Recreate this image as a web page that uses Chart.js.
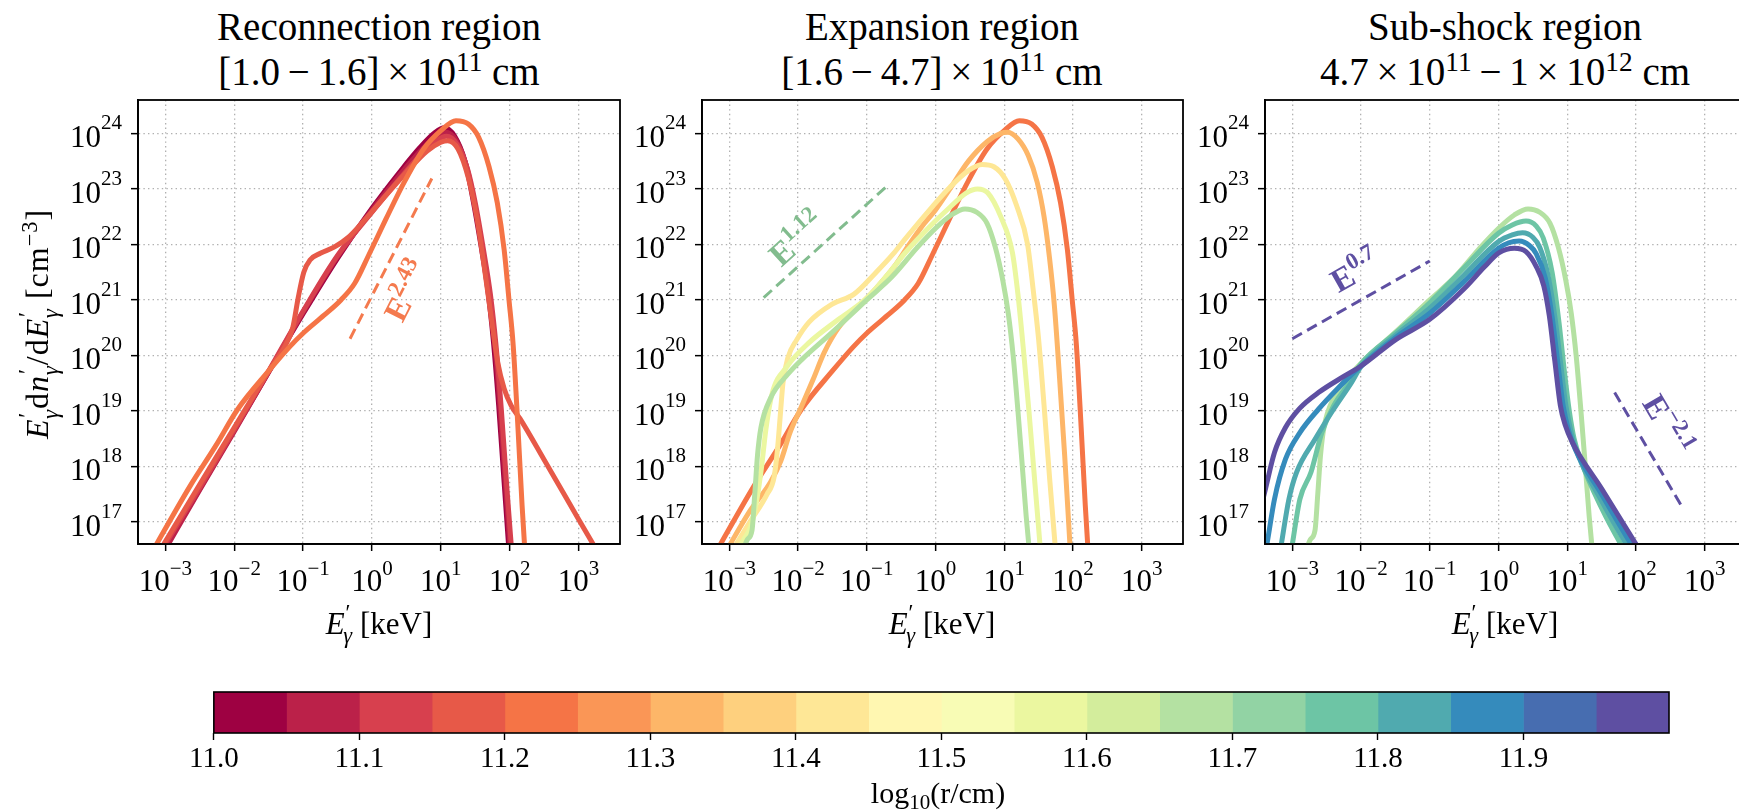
<!DOCTYPE html>
<html>
<head>
<meta charset="utf-8">
<title>Photon spectra by region</title>
<script src="https://cdn.jsdelivr.net/npm/chart.js@4.4.1/dist/chart.umd.min.js"></script>
<style>
  html, body { margin: 0; padding: 0; width: 1739px; height: 810px; overflow: hidden; background: #fff; }
  body { position: relative; font-family: "Liberation Serif", "DejaVu Serif", serif; color: #000; }
  canvas { position: absolute; }
  .title { position: absolute; top: 4px; width: 620px; text-align: center; font-size: 39px; line-height: 45px; white-space: nowrap; }
  .xlabel { position: absolute; top: 606px; width: 300px; text-align: center; font-size: 31px; line-height: 36px; white-space: nowrap; }
  .ylabel { position: absolute; left: -121px; top: 304px; width: 320px; text-align: center; font-size: 32px; line-height: 36px; letter-spacing: 1px; white-space: nowrap; transform: rotate(-90deg); }
  .cblabel { position: absolute; left: 788px; top: 775px; width: 300px; text-align: center; font-size: 30px; line-height: 36px; white-space: nowrap; }
  .up { position: relative; top: -0.5em; font-size: 0.7em; }
  .lo { position: relative; top: 0.3em; font-size: 0.7em; }
  .pr { position: relative; top: -0.62em; font-size: 0.72em; margin-left: 0.04em; font-style: normal; }
  .gm { position: relative; top: 0.42em; font-size: 0.72em; margin-left: -0.32em; font-style: italic; }
</style>
</head>
<body>
<div class="title" style="left:69px">Reconnection region<br>[1.0&#8201;&#8722;&#8201;1.6]&#8201;&#215;&#8201;10<span class="up">11</span> cm</div>
<div class="title" style="left:632px">Expansion region<br>[1.6&#8201;&#8722;&#8201;4.7]&#8201;&#215;&#8201;10<span class="up">11</span> cm</div>
<div class="title" style="left:1195px">Sub-shock region<br>4.7&#8201;&#215;&#8201;10<span class="up">11</span>&#8201;&#8722;&#8201;1&#8201;&#215;&#8201;10<span class="up">12</span> cm</div>

<canvas id="rec" width="622" height="564" style="left:8px;top:90px"></canvas>
<canvas id="exp" width="621" height="564" style="left:572px;top:90px"></canvas>
<canvas id="sub" width="621" height="564" style="left:1135px;top:90px"></canvas>
<canvas id="cbar" width="1502" height="106" style="left:187px;top:687px"></canvas>

<div class="ylabel"><i>E</i><span class="pr">&#8242;</span><span class="gm">&#947;</span>d<i>n</i><span class="pr">&#8242;</span><span class="gm">&#947;</span>/d<i>E</i><span class="pr">&#8242;</span><span class="gm">&#947;</span> [cm<span class="up">&#8722;3</span>]</div>
<div class="xlabel" style="left:229px"><i>E</i><span class="pr">&#8242;</span><span class="gm">&#947;</span> [keV]</div>
<div class="xlabel" style="left:792px"><i>E</i><span class="pr">&#8242;</span><span class="gm">&#947;</span> [keV]</div>
<div class="xlabel" style="left:1355px"><i>E</i><span class="pr">&#8242;</span><span class="gm">&#947;</span> [keV]</div>
<div class="cblabel">log<span class="lo">10</span>(r/cm)</div>

<script>
// axis limits and decade ticks (keV on x, cm^-3 on y)
const xRange = [4e-4, 4e3];
const yRange = [4e16, 4e24];
const xDecades = [1e-3, 1e-2, 1e-1, 1, 1e1, 1e2, 1e3];
const yDecades = [1e17, 1e18, 1e19, 1e20, 1e21, 1e22, 1e23, 1e24];

// colorbar bins in log10(r/cm) and its labelled ticks
const cbEdges = [11.0, 11.05, 11.1, 11.15, 11.2, 11.25, 11.3, 11.35, 11.4, 11.45, 11.5,
                 11.55, 11.6, 11.65, 11.7, 11.75, 11.8, 11.85, 11.9, 11.95, 12.0];
const cbTicks = [11.0, 11.1, 11.2, 11.3, 11.4, 11.5, 11.6, 11.7, 11.8, 11.9];

// spectra as [log10 E (keV), log10 E dn/dE (cm^-3)], one array per radius
const spec1100 = [[-3.07, 16.4], [-2.5, 17.6], [-2.0, 18.65], [-1.5, 19.7], [-1.0, 20.75], [-0.5, 21.75],
  [0.0, 22.65], [0.4, 23.3], [0.7, 23.75], [0.92, 24.02], [1.05, 24.1], [1.2, 23.95], [1.35, 23.5],
  [1.46, 22.85], [1.58, 22.0], [1.68, 21.2], [1.76, 20.3], [1.84, 19.1], [1.92, 17.7], [2.0, 16.3]];
const spec1105 = [[-3.05, 16.4], [-2.5, 17.58], [-2.0, 18.63], [-1.5, 19.7], [-1.0, 20.78], [-0.5, 21.78],
  [0.0, 22.62], [0.4, 23.25], [0.7, 23.68], [0.95, 23.95], [1.07, 24.02], [1.22, 23.88], [1.37, 23.42],
  [1.48, 22.8], [1.6, 21.95], [1.7, 21.15], [1.78, 20.25], [1.86, 19.05], [1.94, 17.65], [2.02, 16.3]];
const spec1110 = [[-3.1, 16.4], [-2.5, 17.62], [-2.0, 18.66], [-1.5, 19.72], [-1.0, 20.8], [-0.5, 21.8],
  [0.0, 22.58], [0.4, 23.18], [0.7, 23.6], [0.95, 23.88], [1.08, 23.95], [1.24, 23.8], [1.39, 23.35],
  [1.5, 22.75], [1.62, 21.9], [1.72, 21.1], [1.8, 20.2], [1.88, 19.0], [1.96, 17.6], [2.04, 16.3]];
const spec1115 = [[-3.12, 16.4], [-2.5, 17.68], [-2.0, 18.7], [-1.5, 19.72], [-1.25, 20.2], [-1.15, 20.5],
  [-1.07, 21.05], [-0.99, 21.5], [-0.9, 21.72], [-0.75, 21.84], [-0.55, 21.95], [-0.35, 22.12],
  [-0.1, 22.45], [0.2, 22.88], [0.5, 23.3], [0.8, 23.68], [1.0, 23.84], [1.1, 23.87], [1.25, 23.72],
  [1.4, 23.2], [1.52, 22.5], [1.63, 21.6], [1.73, 20.7], [1.83, 19.85], [1.92, 19.4], [2.02, 19.1],
  [2.15, 18.86], [2.5, 18.12], [3.0, 17.05], [3.4, 16.2]];
const spec1120 = [[-3.22, 16.4], [-2.64, 17.65], [-2.27, 18.37], [-1.95, 19.03], [-1.5, 19.72], [-1.2, 20.15],
  [-1.0, 20.4], [-0.7, 20.72], [-0.45, 21.0], [-0.25, 21.3], [-0.05, 21.8], [0.2, 22.45], [0.48, 23.15],
  [0.75, 23.72], [1.0, 24.05], [1.22, 24.23], [1.4, 24.17], [1.55, 23.93], [1.7, 23.4], [1.82, 22.75],
  [1.92, 21.9], [1.99, 21.0], [2.05, 20.2], [2.12, 18.7], [2.18, 17.3], [2.23, 16.3]];
const spec1130 = [[-3.08, 16.4], [-2.7, 17.2], [-2.4, 17.72], [-2.25, 18.1], [-2.12, 18.6], [-1.95, 19.08],
  [-1.78, 19.57], [-1.62, 20.05], [-1.41, 20.5], [-1.08, 20.93], [-0.87, 21.2], [-0.6, 21.6], [-0.4, 21.97],
  [-0.2, 22.32], [0.0, 22.62], [0.21, 23.0], [0.48, 23.5], [0.75, 23.85], [0.95, 24.0], [1.05, 24.02],
  [1.2, 23.9], [1.35, 23.6], [1.48, 23.12], [1.58, 22.5], [1.66, 21.75], [1.73, 20.9], [1.8, 19.7],
  [1.88, 18.2], [1.97, 16.3]];
const spec1140 = [[-3.0, 16.4], [-2.7, 17.0], [-2.45, 17.5], [-2.35, 17.8], [-2.3, 18.3], [-2.26, 18.9],
  [-2.22, 19.5], [-2.15, 19.95], [-2.02, 20.28], [-1.84, 20.6], [-1.51, 20.92], [-1.19, 21.1], [-0.9, 21.45],
  [-0.6, 21.85], [-0.44, 22.1], [-0.06, 22.66], [0.21, 23.03], [0.48, 23.33], [0.68, 23.44], [0.85, 23.4],
  [1.02, 23.17], [1.18, 22.7], [1.34, 22.0], [1.42, 21.2], [1.5, 20.3], [1.58, 19.1], [1.66, 17.8], [1.76, 16.3]];
const spec1155 = [[-2.93, 16.4], [-2.78, 16.7], [-2.68, 16.95], [-2.6, 17.4], [-2.53, 18.0], [-2.47, 18.65],
  [-2.38, 19.3], [-2.16, 19.8], [-1.84, 20.23], [-1.41, 20.65], [-1.03, 21.0], [-0.7, 21.45], [-0.44, 21.85],
  [-0.06, 22.35], [0.21, 22.67], [0.45, 22.93], [0.61, 23.0], [0.76, 22.93], [0.95, 22.5], [1.12, 21.85],
  [1.2, 21.1], [1.28, 20.1], [1.36, 19.0], [1.44, 17.8], [1.54, 16.3]];
const spec1167 = [[-2.82, 16.4], [-2.74, 16.68], [-2.67, 16.85], [-2.63, 17.5], [-2.59, 18.2], [-2.54, 18.7],
  [-2.4, 19.23], [-2.15, 19.66], [-1.95, 19.92], [-1.5, 20.42], [-1.0, 21.0], [-0.63, 21.42], [-0.26, 21.95],
  [0.01, 22.3], [0.23, 22.53], [0.43, 22.64], [0.6, 22.58], [0.75, 22.38], [0.87, 21.95], [0.98, 21.35],
  [1.06, 20.75], [1.13, 20.0], [1.2, 19.0], [1.27, 17.9], [1.32, 17.1], [1.38, 16.3]];
const spec1178 = [[-3.04, 16.3], [-3.0, 16.6], [-2.89, 17.41], [-2.73, 17.89], [-2.57, 18.61], [-2.4, 19.09],
  [-2.14, 19.57], [-2.0, 19.85], [-1.5, 20.4], [-1.0, 20.95], [-0.5, 21.58], [0.0, 22.2], [0.2, 22.35],
  [0.4, 22.42], [0.55, 22.33], [0.65, 22.12], [0.78, 21.5], [0.88, 20.6], [0.96, 19.7], [1.03, 19.0],
  [1.1, 18.5], [1.2, 18.1], [1.5, 17.25], [1.78, 16.6], [1.88, 16.4]];
const spec1183 = [[-3.2, 16.3], [-3.16, 16.6], [-3.05, 17.41], [-2.94, 17.89], [-2.67, 18.49], [-2.4, 19.03],
  [-2.14, 19.51], [-2.0, 19.8], [-1.5, 20.36], [-1.0, 20.85], [-0.5, 21.45], [0.0, 22.05], [0.2, 22.17],
  [0.35, 22.21], [0.5, 22.13], [0.6, 21.95], [0.72, 21.45], [0.82, 20.7], [0.9, 19.9], [0.98, 19.1],
  [1.06, 18.6], [1.16, 18.2], [1.5, 17.38], [1.86, 16.6], [1.96, 16.4]];
const spec1188 = [[-3.42, 16.3], [-3.37, 16.6], [-3.26, 17.41], [-3.1, 18.13], [-2.89, 18.61], [-2.62, 19.03],
  [-2.35, 19.39], [-2.08, 19.72], [-1.5, 20.32], [-1.0, 20.76], [-0.5, 21.33], [0.0, 21.93], [0.15, 22.03],
  [0.3, 22.06], [0.45, 21.98], [0.55, 21.83], [0.68, 21.4], [0.78, 20.7], [0.86, 19.9], [0.94, 19.1],
  [1.02, 18.65], [1.12, 18.3], [1.5, 17.5], [1.93, 16.6], [2.03, 16.4]];
const spec1198 = [[-3.5, 17.05], [-3.39, 17.6], [-3.26, 18.25], [-3.1, 18.7], [-2.89, 19.05], [-2.62, 19.33],
  [-2.24, 19.63], [-2.0, 19.81], [-1.49, 20.29], [-1.0, 20.65], [-0.5, 21.2], [-0.2, 21.6], [0.01, 21.85],
  [0.23, 21.93], [0.4, 21.87], [0.55, 21.6], [0.66, 21.25], [0.74, 20.71], [0.82, 19.9], [0.9, 19.1],
  [0.97, 18.75], [1.08, 18.42], [1.5, 17.6], [2.0, 16.6], [2.1, 16.4]];

// which spectra sit in each region, and their log10(r/cm)
const recCurves = [spec1100, spec1105, spec1110, spec1115, spec1120];
const recLogR = [11.02, 11.07, 11.12, 11.17, 11.22];
const expCurves = [spec1120, spec1130, spec1140, spec1155, spec1167];
const expLogR = [11.22, 11.32, 11.42, 11.57, 11.67];
const subCurves = [spec1167, spec1178, spec1183, spec1188, spec1198];
const subLogR = [11.67, 11.78, 11.83, 11.88, 11.98];

// power-law guides: energy span (keV), value at the first energy, index, label position
const recGuideE = [0.48, 7.4], recGuideF = 2.0e20, recGuideIdx = 2.43, recGuideAt = [3.2, 1.45e21];
const expGuideE = [3.16e-3, 0.2], expGuideF = 1.1e21, expGuideIdx = 1.12, expGuideAt = [9.6e-3, 1.25e22];
const lowGuideE = [1e-3, 0.1], lowGuideF = 2.0e20, lowGuideIdx = 0.7, lowGuideAt = [8.2e-3, 3.3e21];
const highGuideE = [49, 490], highGuideF = 2.14e19, highGuideIdx = -2.1, highGuideAt = [285, 5.6e18];

const SPECTRAL = ['#9e0142', '#d53e4f', '#f46d43', '#fdae61', '#fee08b', '#ffffbf',
                  '#e6f598', '#abdda4', '#66c2a5', '#3288bd', '#5e4fa2'];
const SERIF = '"Liberation Serif", "Times New Roman", serif';
const TICK_FONT = '31px ' + SERIF;
const EXP_FONT = '21px ' + SERIF;
const NOTE_FONT = 'bold 33px ' + SERIF;
const NOTE_EXP = 'bold 23px ' + SERIF;

Chart.defaults.font.family = SERIF;

function hexRgb(h) {
  return [1, 3, 5].map(i => parseInt(h.slice(i, i + 2), 16));
}

function spectral(t) {
  const s = Math.max(0, Math.min(1, t)) * 10;
  const i = Math.min(9, Math.floor(s));
  const f = s - i;
  const a = hexRgb(SPECTRAL[i]), b = hexRgb(SPECTRAL[i + 1]);
  const c = a.map((v, k) => Math.round(v + (b[k] - v) * f));
  return `rgb(${c[0]}, ${c[1]}, ${c[2]})`;
}

// colour of the colorbar bin holding log10 r
function binColor(logR) {
  const n = cbEdges.length - 1;
  let bin = 0;
  while (bin < n - 1 && logR >= cbEdges[bin + 1]) bin++;
  return spectral(bin / (n - 1));
}

function toPoints(curve) {
  return curve.map(p => ({ x: Math.pow(10, p[0]), y: Math.pow(10, p[1]) }));
}

function guidePoints(g) {
  return [
    { x: g.E[0], y: g.F },
    { x: g.E[1], y: g.F * Math.pow(g.E[1] / g.E[0], g.idx) }
  ];
}

const expOf = v => String(Math.round(Math.log10(v))).replace('-', '\u2212');

// "10" (or "E") with a raised exponent
function drawPower(ctx, x, y, base, exp, align, font, expFont, rise) {
  ctx.font = font;
  const wb = ctx.measureText(base).width;
  ctx.font = expFont;
  const we = ctx.measureText(exp).width;
  const x0 = align === 'right' ? x - wb - we : x - (wb + we) / 2;
  ctx.textAlign = 'left';
  ctx.textBaseline = 'alphabetic';
  ctx.font = font;
  ctx.fillText(base, x0, y);
  ctx.font = expFont;
  ctx.fillText(exp, x0 + wb, y - rise);
}

function panelDecor(guides) {
  return {
    id: 'panelDecor',
    afterDraw(chart) {
      const { ctx, chartArea: a, scales: { x, y } } = chart;
      ctx.save();
      ctx.fillStyle = '#000';
      xDecades.forEach(v => {
        drawPower(ctx, x.getPixelForValue(v), a.bottom + 47, '10', expOf(v), 'center', TICK_FONT, EXP_FONT, 16.5);
      });
      yDecades.forEach(v => {
        drawPower(ctx, a.left - 16, y.getPixelForValue(v) + 14, '10', expOf(v), 'right', TICK_FONT, EXP_FONT, 18);
      });
      ctx.strokeStyle = '#000';
      ctx.lineWidth = 1.8;
      ctx.strokeRect(a.left, a.top, a.right - a.left, a.bottom - a.top);

      // index labels laid along each dashed guide
      guides.forEach(g => {
        const [p0, p1] = guidePoints(g);
        const ang = Math.atan2(y.getPixelForValue(p1.y) - y.getPixelForValue(p0.y),
                               x.getPixelForValue(p1.x) - x.getPixelForValue(p0.x));
        ctx.save();
        ctx.translate(x.getPixelForValue(g.at[0]), y.getPixelForValue(g.at[1]));
        ctx.rotate(ang);
        ctx.fillStyle = g.color;
        drawPower(ctx, 0, 11, 'E', String(g.idx).replace('-', '\u2212'), 'center', NOTE_FONT, NOTE_EXP, 14);
        ctx.restore();
      });
      ctx.restore();
    }
  };
}

function logAxis(range, decades, fit) {
  return {
    type: 'logarithmic',
    min: range[0],
    max: range[1],
    afterBuildTicks: s => { s.ticks = decades.map(v => ({ value: v })); },
    afterFit: fit,
    ticks: { display: false },
    grid: { color: '#b0b0b0', lineWidth: 1.3, tickColor: '#000', tickWidth: 1.5, tickLength: 7, tickBorderDash: [] },
    border: { display: true, color: '#000', width: 1.8, dash: [1.4, 3.2] }
  };
}

function makePanel(id, curves, logR, guides) {
  const datasets = curves.map((c, i) => ({
    data: toPoints(c),
    borderColor: binColor(logR[i]),
    borderWidth: 5,
    borderJoinStyle: 'round',
    pointRadius: 0,
    fill: false,
    cubicInterpolationMode: 'monotone',
    clip: 0,
    order: curves.length - i + 1
  }));
  guides.forEach(g => datasets.push({
    data: guidePoints(g),
    borderColor: g.color,
    borderWidth: 3,
    borderDash: [11, 6],
    pointRadius: 0,
    fill: false,
    clip: 0,
    order: 0
  }));

  new Chart(document.getElementById(id), {
    type: 'line',
    data: { datasets },
    options: {
      responsive: false,
      animation: false,
      events: [],
      layout: { padding: { left: 0, right: 10, top: 10, bottom: 0 } },
      plugins: { legend: { display: false }, tooltip: { enabled: false } },
      scales: {
        x: logAxis(xRange, xDecades, s => { s.height = 110; }),
        y: logAxis(yRange, yDecades, s => { s.width = 130; })
      }
    },
    plugins: [panelDecor(guides)]
  });
}

makePanel('rec', recCurves, recLogR, [
  { E: recGuideE, F: recGuideF, idx: recGuideIdx, at: recGuideAt, color: '#f47a4e' }
]);
makePanel('exp', expCurves, expLogR, [
  { E: expGuideE, F: expGuideF, idx: expGuideIdx, at: expGuideAt, color: '#82bc8e' }
]);
makePanel('sub', subCurves, subLogR, [
  { E: lowGuideE, F: lowGuideF, idx: lowGuideIdx, at: lowGuideAt, color: '#5e4fa2' },
  { E: highGuideE, F: highGuideF, idx: highGuideIdx, at: highGuideAt, color: '#5e4fa2' }
]);

// discrete colorbar: one floating bar per bin
new Chart(document.getElementById('cbar'), {
  type: 'bar',
  data: {
    labels: [''],
    datasets: cbEdges.slice(0, -1).map((lo, i) => ({
      data: [[lo, cbEdges[i + 1]]],
      backgroundColor: spectral(i / (cbEdges.length - 2)),
      borderWidth: 0,
      grouped: false,
      barPercentage: 1,
      categoryPercentage: 1
    }))
  },
  options: {
    indexAxis: 'y',
    responsive: false,
    animation: false,
    events: [],
    layout: { padding: { left: 20, right: 20, top: 5, bottom: 0 } },
    plugins: { legend: { display: false }, tooltip: { enabled: false } },
    scales: {
      x: {
        type: 'linear',
        min: cbEdges[0],
        max: cbEdges[cbEdges.length - 1],
        afterBuildTicks: s => { s.ticks = cbTicks.map(v => ({ value: v })); },
        afterFit: s => { s.height = 60; },
        grid: { drawOnChartArea: false, drawTicks: true, tickLength: 7, tickColor: '#000', tickWidth: 1.4 },
        border: { display: false },
        ticks: {
          color: '#000',
          font: { size: 29, family: SERIF },
          padding: 2,
          maxRotation: 0,
          autoSkip: false,
          callback: v => Number(v).toFixed(1)
        }
      },
      y: { display: false }
    }
  },
  plugins: [{
    id: 'cbFrame',
    afterDraw(chart) {
      const { ctx, chartArea: a } = chart;
      ctx.save();
      ctx.strokeStyle = '#000';
      ctx.lineWidth = 1.6;
      ctx.strokeRect(a.left, a.top, a.right - a.left, a.bottom - a.top);
      ctx.restore();
    }
  }]
});
</script>
</body>
</html>
